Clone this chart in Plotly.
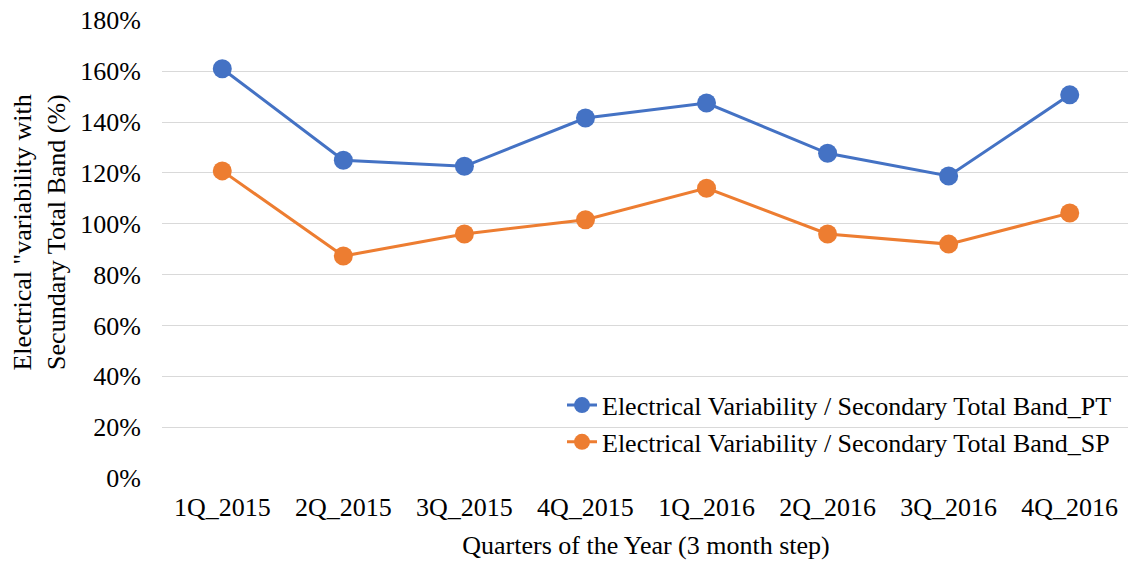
import plotly.graph_objects as go

quarters = ["1Q_2015", "2Q_2015", "3Q_2015", "4Q_2015", "1Q_2016", "2Q_2016", "3Q_2016", "4Q_2016"]
pt_values = [1.61, 1.25, 1.226, 1.416, 1.475, 1.277, 1.188, 1.507]
sp_values = [1.208, 0.873, 0.960, 1.016, 1.140, 0.960, 0.920, 1.042]
y_ticks = [0, 0.2, 0.4, 0.6, 0.8, 1.0, 1.2, 1.4, 1.6, 1.8]

FONT = "Liberation Serif, Times New Roman, serif"
FS = 26

# page body has an 8px margin, so plot-area offsets are shifted by 8px
L, T, PW, PH = 154, 12, 968, 458

fig = go.Figure()
fig.add_trace(go.Scatter(x=quarters, y=pt_values, mode="lines+markers",
                         name="Electrical Variability / Secondary Total Band_PT",
                         line=dict(color="#4472C4", width=3),
                         marker=dict(color="#4472C4", size=19)))
fig.add_trace(go.Scatter(x=quarters, y=sp_values, mode="lines+markers",
                         name="Electrical Variability / Secondary Total Band_SP",
                         line=dict(color="#ED7D31", width=3),
                         marker=dict(color="#ED7D31", size=19)))

fig.update_layout(
    width=1136, height=563,
    margin=dict(l=L, r=1136 - L - PW, t=T, b=563 - T - PH, autoexpand=False),
    paper_bgcolor="white", plot_bgcolor="white",
    font=dict(family=FONT, size=FS, color="#000000"),
    showlegend=True,
    legend=dict(x=(554 - L) / PW, y=0.027, xanchor="left", yanchor="bottom",
                bgcolor="rgba(0,0,0,0)", font=dict(size=FS, family=FONT),
                tracegroupgap=0),
    xaxis=dict(showgrid=False, showline=False, zeroline=False, automargin=False,
               ticks="", tickfont=dict(size=FS, family=FONT), ticklabelstandoff=11,
               title=dict(text="Quarters of the Year (3 month step)", font=dict(size=FS, family=FONT), standoff=14)),
    yaxis=dict(range=[0, 1.8015], tickvals=y_ticks, tickformat=".0%", automargin=False,
               showgrid=True, gridcolor="#D9D9D9", gridwidth=1,
               zeroline=False, showline=False, ticks="", ticklabelstandoff=20,
               ticklabeloverflow="allow",
               tickfont=dict(size=FS, family=FONT)),
    annotations=[dict(text="Electrical \"variability with<br>Secundary Total Band (%)",
                      xref="paper", yref="paper", x=(32 - L) / PW, y=0.536,
                      xanchor="center", yanchor="middle", textangle=-90, showarrow=False,
                      align="right",
                      font=dict(size=FS, family=FONT, color="#000000"))],
)

fig.write_html("out.html")
